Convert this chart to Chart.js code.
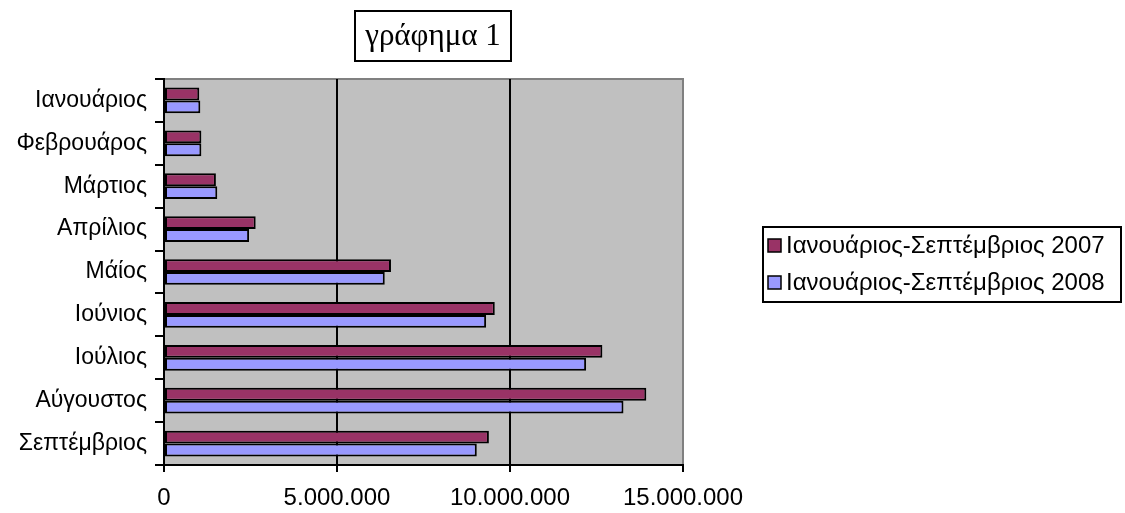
<!DOCTYPE html>
<html>
<head>
<meta charset="utf-8">
<script src="https://cdn.jsdelivr.net/npm/chart.js@4"></script>
<style>
  html, body { margin: 0; padding: 0; background: #fff; }
  #wrap { width: 1125px; height: 513px; position: relative; }
</style>
</head>
<body>
<div id="wrap"><canvas id="barChart"></canvas></div>
<script>
// data
const months = ['Ιανουάριος', 'Φεβρουάρος', 'Μάρτιος', 'Απρίλιος', 'Μάίος', 'Ιούνιος', 'Ιούλιος', 'Αύγουστος', 'Σεπτέμβριος'];
const series2007 = [1020000, 1080000, 1500000, 2650000, 6560000, 9560000, 12670000, 13940000, 9390000];
const series2008 = [1050000, 1080000, 1540000, 2460000, 6380000, 9310000, 12200000, 13280000, 9040000];
const seriesNames = ['Ιανουάριος-Σεπτέμβριος 2007', 'Ιανουάριος-Σεπτέμβριος 2008'];
const xTicks = [0, 5000000, 10000000, 15000000];
const chartTitle = 'γράφημα 1';

const fmt = v => String(v).replace(/\B(?=(\d{3})+(?!\d))/g, '.');
const sans = '"Liberation Sans", Arial, sans-serif';

// gray plot background, title box and legend box (excel style)
const decor = {
    id: 'decor',
    beforeDraw(chart) {
        const { ctx, chartArea: a } = chart;
        ctx.save();
        ctx.fillStyle = '#c0c0c0';
        ctx.fillRect(a.left, a.top, a.right - a.left, a.bottom - a.top);
        ctx.strokeStyle = '#808080';
        ctx.lineWidth = 2;
        ctx.beginPath();
        ctx.moveTo(a.left, a.top);
        ctx.lineTo(a.right, a.top);
        ctx.lineTo(a.right, a.bottom);
        ctx.stroke();
        ctx.restore();
    },
    afterDraw(chart) {
        const { ctx } = chart;
        ctx.save();
        // title
        ctx.strokeStyle = '#000';
        ctx.lineWidth = 2;
        ctx.fillStyle = '#fff';
        ctx.fillRect(355, 11, 156, 50);
        ctx.strokeRect(355, 11, 156, 50);
        ctx.fillStyle = '#000';
        ctx.font = '31px "Liberation Serif", "DejaVu Serif", serif';
        ctx.textAlign = 'center';
        ctx.textBaseline = 'middle';
        ctx.fillText(chartTitle, 433, 37);
        // legend
        ctx.strokeRect(763, 227, 358, 75);
        ctx.font = '24px ' + sans;
        ctx.textAlign = 'left';
        chart.data.datasets.forEach((ds, i) => {
            const y = 246 + i * 37;
            ctx.fillStyle = ds.backgroundColor;
            ctx.fillRect(768, y - 7, 13, 13);
            ctx.lineWidth = 1.5;
            ctx.strokeRect(768, y - 7, 13, 13);
            ctx.fillStyle = '#000';
            ctx.fillText(ds.label, 786, y);
        });
        ctx.restore();
    }
};

new Chart(document.getElementById('barChart'), {
    type: 'bar',
    data: {
        labels: months,
        datasets: [
            { label: seriesNames[0], data: series2007, backgroundColor: '#993366', borderColor: '#000', borderWidth: 2 },
            { label: seriesNames[1], data: series2008, backgroundColor: '#9999ff', borderColor: '#000', borderWidth: 2 }
        ]
    },
    options: {
        indexAxis: 'y',
        responsive: true,
        maintainAspectRatio: false,
        animation: false,
        layout: { padding: { left: 10, top: 79, right: 442, bottom: 0 } },
        datasets: { bar: { barPercentage: 1, categoryPercentage: 0.6, borderSkipped: false } },
        plugins: {
            legend: { display: false },
            tooltip: { enabled: false }
        },
        scales: {
            x: {
                min: 0,
                max: 15000000,
                afterBuildTicks: s => { s.ticks = xTicks.map(v => ({ value: v })); },
                afterFit: s => { s.height = 48; },
                border: { color: '#000', width: 2 },
                grid: {
                    color: c => (c.tick && c.tick.value > 0 && c.tick.value < 15000000) ? '#000' : 'rgba(0,0,0,0)',
                    lineWidth: 2,
                    tickColor: '#000',
                    tickLength: 7
                },
                ticks: {
                    color: '#000',
                    padding: 12,
                    maxRotation: 0,
                    autoSkip: false,
                    font: { family: sans, size: 24 },
                    callback: v => fmt(v)
                }
            },
            y: {
                afterFit: s => { s.width = 154; },
                border: { color: '#000', width: 2 },
                grid: {
                    drawOnChartArea: false,
                    tickColor: '#000',
                    tickLength: 9,
                    lineWidth: 2
                },
                ticks: {
                    color: '#000',
                    padding: 8,
                    font: { family: sans, size: 23 }
                }
            }
        }
    },
    plugins: [decor]
});
</script>
</body>
</html>
